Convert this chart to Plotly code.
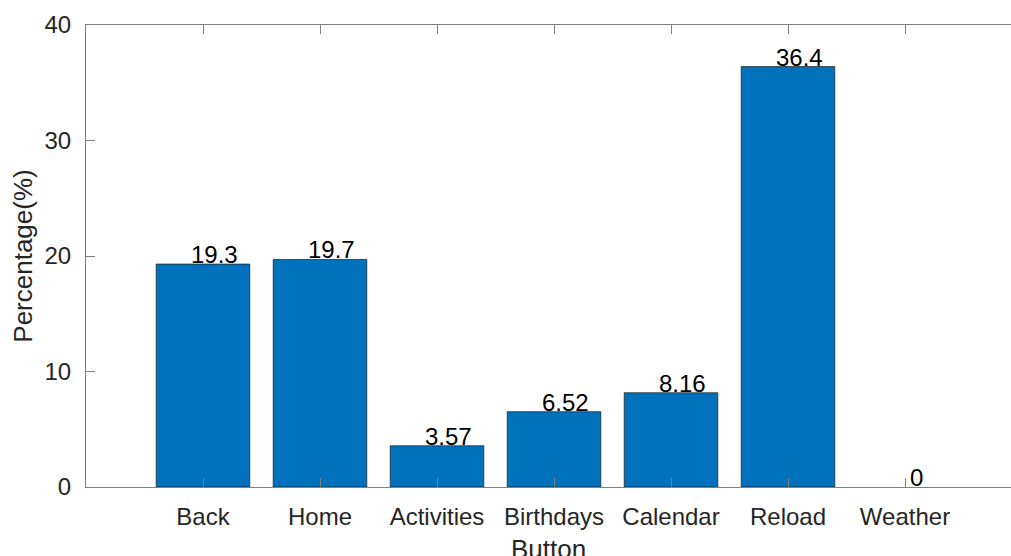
import plotly.graph_objects as go

buttons = ["Back", "Home", "Activities", "Birthdays", "Calendar", "Reload", "Weather"]
percentages = [19.3, 19.7, 3.57, 6.52, 8.16, 36.4, 0]
value_labels = ["19.3", "19.7", "3.57", "6.52", "8.16", "36.4", "0"]
y_ticks = [0, 10, 20, 30, 40]

FONT = "Liberation Sans, Arial, Helvetica, sans-serif"
positions = list(range(1, len(buttons) + 1))

fig = go.Figure()
fig.add_trace(go.Bar(
    x=positions,
    y=percentages,
    width=0.8,
    marker=dict(
        color="#0072BD",
        # zero-height bars leave no visible outline in the original
        line=dict(color="#1a1a1a", width=[0.7 if v > 0 else 0 for v in percentages]),
    ),
    showlegend=False,
    hoverinfo="x+y",
))

for pos, val, lbl in zip(positions, percentages, value_labels):
    fig.add_annotation(
        x=pos + 0.095, y=val, text=lbl, showarrow=False,
        xanchor="center", yanchor="bottom", yshift=-6,
        font=dict(family=FONT, size=24, color="black"),
    )

# x-axis title sits lower than plotly would put it (cut by the figure edge)
fig.add_annotation(
    x=0.5, y=0, xref="paper", yref="paper", text="Button", showarrow=False,
    xanchor="center", yanchor="top", yshift=-45,
    font=dict(family=FONT, size=26, color="#262626"),
)

fig.update_layout(
    width=1011,
    height=556,
    margin=dict(l=86, r=0, t=25, b=69),
    plot_bgcolor="white",
    paper_bgcolor="white",
    font=dict(family=FONT, size=24, color="#262626"),
    bargap=0.2,
)
fig.update_xaxes(
    automargin=False,
    range=[0, 7.906],
    tickmode="array",
    tickvals=positions,
    ticktext=buttons,
    ticks="inside",
    ticklen=9,
    tickcolor="#808080",
    showline=True,
    linecolor="#808080",
    linewidth=1,
    mirror="ticks",
    showgrid=False,
    zeroline=False,
    ticklabelstandoff=8,
    tickfont=dict(size=24, color="#262626"),
)
fig.update_yaxes(
    automargin=False,
    range=[0, 40],
    tickvals=y_ticks,
    ticks="inside",
    ticklen=9,
    tickcolor="#808080",
    showline=True,
    linecolor="#808080",
    linewidth=1,
    showgrid=False,
    zeroline=False,
    ticklabelstandoff=9,
    title=dict(text="Percentage(%)", font=dict(size=26, color="#262626"), standoff=4),
    tickfont=dict(size=24, color="#262626"),
)

fig.write_html(
    "out.html",
    config={"displayModeBar": False},
    post_script="document.body.style.margin='0';document.body.style.overflow='hidden';",
)
